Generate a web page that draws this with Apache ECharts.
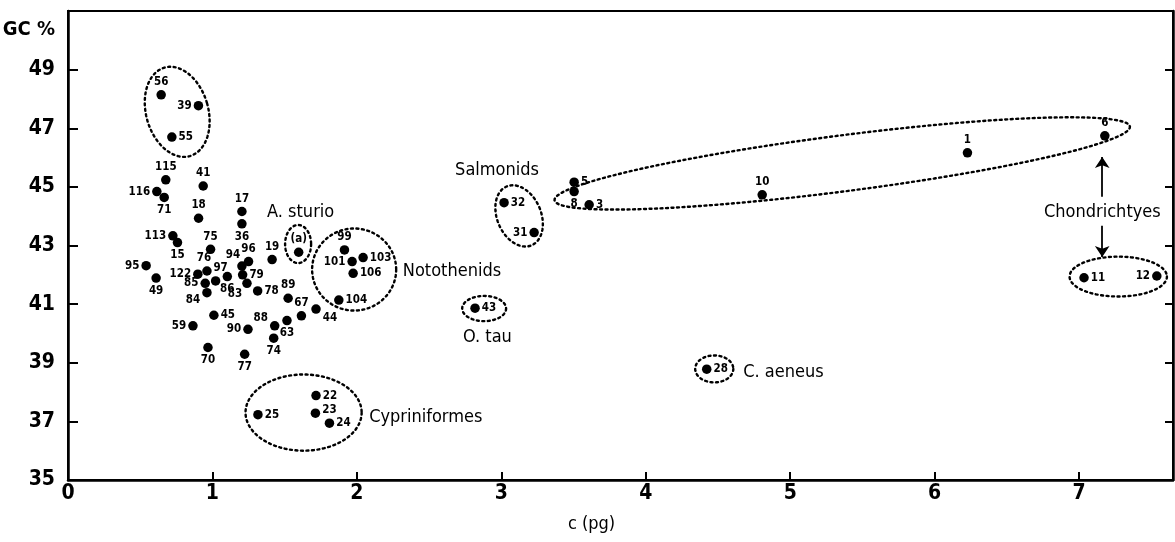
<!DOCTYPE html>
<html>
<head>
<meta charset="utf-8">
<script src="https://cdn.jsdelivr.net/npm/echarts@6/dist/echarts.min.js"></script>
<style>
html,body{margin:0;padding:0;background:#fff;}
#chart{width:1175px;height:542px;}
</style>
</head>
<body>
<div id="chart"></div>
<script>
// ---------------- DATA ----------------
const pointIds = ['56','39','55','115','41','116','71','18','17','36','113','15','75','95','49','122','76','97','85','84','86','94','96','79','83','78','19','(a)','89','67','44','63','88','74','90','77','70','45','59','22','23','24','25','99','101','103','106','104','43','32','31','5','8','3','10','1','6','28','11','12'];
const cValues = [0.645,0.903,0.719,0.677,0.936,0.615,0.666,0.904,1.204,1.204,0.726,0.758,0.987,0.541,0.610,0.899,0.962,1.022,0.950,0.962,1.103,1.204,1.250,1.209,1.239,1.313,1.413,1.597,1.524,1.616,1.717,1.516,1.431,1.424,1.246,1.223,0.969,1.010,0.865,1.717,1.713,1.810,1.315,1.914,1.967,2.043,1.974,1.875,2.818,3.019,3.227,3.504,3.504,3.608,4.806,6.227,7.178,4.422,7.034,7.538];
const gcValues = [48.14,47.77,46.70,45.24,45.03,44.84,44.64,43.93,44.16,43.74,43.33,43.10,42.87,42.31,41.89,42.02,42.13,41.79,41.71,41.39,41.94,42.30,42.45,42.00,41.71,41.45,42.52,42.77,41.20,40.60,40.83,40.44,40.26,39.84,40.14,39.29,39.52,40.62,40.26,37.88,37.28,36.94,37.23,42.85,42.45,42.59,42.05,41.14,40.86,44.46,43.44,45.16,44.84,44.39,44.73,46.16,46.74,38.78,41.90,41.96];

const xTickValues = [0,1,2,3,4,5,6,7];
const yTickValues = [35,37,39,41,43,45,47,49];
const xAxisTitle = 'c (pg)';
const yAxisTitle = 'GC %';

// group outlines (centre c, centre GC, half-width in c, half-height in GC, tilt deg)
const groupCentreC  = [0.756, 3.123, 1.593, 1.981, 2.881, 1.631, 5.360, 4.474, 7.271];
const groupCentreGC = [47.56, 44.01, 43.05, 42.18, 40.85, 37.30, 45.80, 38.79, 41.94];
const groupHalfC    = [0.215, 0.152, 0.090, 0.291, 0.152, 0.402, 2.008, 0.132, 0.337];
const groupHalfGC   = [1.57, 1.09, 0.65, 1.40, 0.43, 1.30, 0.955, 0.46, 0.68];
const groupTilt     = [-16, -23, 0, 0, 0, 0, -7.3, 0, 0];

// group names
const groupNames   = ['A. sturio','Salmonids','Notothenids','O. tau','Cypriniformes','C. aeneus','Chondrichtyes'];
const groupNameC   = [1.378, 2.680, 2.318, 2.735, 2.085, 4.675, 7.161];
const groupNameGC  = [44.14, 45.58, 42.11, 39.88, 37.15, 38.69, 44.14];
const groupNameAlign = ['left','left','left','left','left','left','center'];

// arrows (Chondrichtyes)
const arrowFromC  = [7.16, 7.16];
const arrowFromGC = [44.66, 43.67];
const arrowToC    = [7.16, 7.16];
const arrowToGC   = [46.02, 42.61];

// label placement (style only)
const labelPlacement = {
  '39':['left'], '55':['right'], '116':['left'], '71':['bottom'], '36':['bottom'],
  '113':['left'], '15':['bottom'], '95':['left'], '49':['bottom'], '122':['left'],
  '85':['left'], '84':['left',0,7], '86':['bottom'], '94':['top',-9,2], '79':['right'],
  '83':['bottom',-12,-2], '78':['right'], '63':['bottom'], '88':['left',0,-8],
  '74':['bottom'], '90':['left'], '77':['bottom'], '70':['bottom'], '45':['right'],
  '59':['left'], '22':['right'], '23':['right',0,-3], '24':['right'], '25':['right'],
  '101':['left'], '103':['right'], '106':['right'], '104':['right'], '43':['right'],
  '32':['right'], '31':['left'], '5':['right'], '8':['bottom'], '3':['right'],
  '28':['right'], '11':['right'], '12':['left'], '44':['right',0,9], '76':['top',-3,0],
  '97':['top',5,0]
};

// ---------------- CHART ----------------
const AXIS_FONT = "'DejaVu Sans Condensed','Liberation Sans Narrow','Liberation Sans',sans-serif";
const TEXT_FONT = "'Liberation Sans Narrow','DejaVu Sans Condensed','Liberation Sans',sans-serif";
const PT_FONT = "'DejaVu Sans Condensed','DejaVu Sans',sans-serif";

const points = pointIds.map((id, i) => {
  const p = labelPlacement[id] || ['top'];
  return {
    name: id,
    value: [cValues[i], gcValues[i]],
    label: { position: p[0], offset: [p[1] || 0, p[2] || 0] }
  };
});

const groups = groupCentreC.map((c, i) => [c, groupCentreGC[i], groupHalfC[i], groupHalfGC[i], groupTilt[i]]);
const names = groupNames.map((n, i) => [groupNameC[i], groupNameGC[i], n, groupNameAlign[i]]);
const arrows = arrowFromC.map((c, i) => ({ coords: [[c, arrowFromGC[i]], [arrowToC[i], arrowToGC[i]]] }));

const chart = echarts.init(document.getElementById('chart'), null, { renderer: 'canvas' });

chart.setOption({
  animation: false,
  backgroundColor: '#fff',
  grid: { left: 68, right: 2, top: 11, bottom: 62, containLabel: false, outerBoundsMode: 'none',
          show: true, borderColor: '#000', borderWidth: 2, backgroundColor: 'transparent' },
  xAxis: {
    type: 'value', min: 0, max: 7.65, interval: 1,
    splitLine: { show: false },
    axisLine: { show: true, onZero: false, lineStyle: { color: '#000', width: 2.5 } },
    axisTick: { show: true, inside: true, length: 8, customValues: xTickValues, lineStyle: { color: '#000', width: 2 } },
    axisLabel: { customValues: xTickValues, color: '#000', fontSize: 21, fontWeight: 'bold', fontFamily: AXIS_FONT, margin: 3 },
    name: xAxisTitle, nameLocation: 'middle', nameGap: 35,
    nameTextStyle: { color: '#000', fontSize: 18, fontFamily: TEXT_FONT, padding: [0, 58, 0, 0] }
  },
  yAxis: [{
    type: 'value', min: 35, max: 51, interval: 2, position: 'left',
    splitLine: { show: false },
    axisLine: { show: true, onZero: false, lineStyle: { color: '#000', width: 2.5 } },
    axisTick: { show: true, inside: true, length: 10, customValues: yTickValues.slice(1), lineStyle: { color: '#000', width: 2 } },
    axisLabel: {
      customValues: yTickValues.concat([50.35]), color: '#000', fontSize: 21, fontWeight: 'bold', fontFamily: AXIS_FONT, margin: 13,
      formatter: v => (v > 50 ? '{t|' + yAxisTitle + '}' : String(v)),
      rich: { t: { fontSize: 20, fontWeight: 'bold', fontFamily: AXIS_FONT, color: '#000' } }
    }
  }, {
    type: 'value', min: 35, max: 51, interval: 2, position: 'right',
    splitLine: { show: false },
    axisLine: { show: true, onZero: false, lineStyle: { color: '#000', width: 2.5 } },
    axisTick: { show: true, inside: true, length: 8, customValues: yTickValues.slice(1), lineStyle: { color: '#000', width: 2 } },
    axisLabel: { show: false }
  }],
  series: [
    {
      type: 'custom', name: 'groups', data: groups, silent: true, z: 2,
      renderItem: function (params, api) {
        const ctr = api.coord([api.value(0), api.value(1)]);
        const sz = api.size([api.value(2), api.value(3)]);
        const th = api.value(4) * Math.PI / 180;
        const pts = [];
        for (let k = 0; k < 120; k++) {
          const t = k / 120 * Math.PI * 2;
          const ex = sz[0] * Math.cos(t), ey = sz[1] * Math.sin(t);
          pts.push([ctr[0] + ex * Math.cos(th) - ey * Math.sin(th), ctr[1] + ex * Math.sin(th) + ey * Math.cos(th)]);
        }
        return { type: 'polygon', shape: { points: pts }, style: { fill: null, stroke: '#000', lineWidth: 2.4, lineDash: [2, 3.5], lineCap: 'round' } };
      }
    },
    {
      type: 'custom', name: 'names', data: names, silent: true, z: 3,
      renderItem: function (params, api) {
        const p = api.coord([api.value(0), api.value(1)]);
        const d = names[params.dataIndex];
        return { type: 'text', x: p[0], y: p[1], style: { text: d[2], fill: '#000', font: "18px " + TEXT_FONT, align: d[3], verticalAlign: 'middle' } };
      }
    },
    {
      type: 'lines', coordinateSystem: 'cartesian2d', data: arrows, silent: true, z: 3,
      symbol: ['none', 'arrow'], symbolSize: [7, 11],
      lineStyle: { color: '#000', width: 1.8, opacity: 1 }
    },
    {
      type: 'scatter', name: 'species', data: points, z: 4,
      symbol: 'circle', symbolSize: 9.5,
      itemStyle: { color: '#000', opacity: 1 },
      label: { show: true, formatter: '{b}', color: '#000', fontSize: 11.5, fontWeight: 'bold', fontFamily: PT_FONT, distance: 2 }
    }
  ]
});
</script>
</body>
</html>
